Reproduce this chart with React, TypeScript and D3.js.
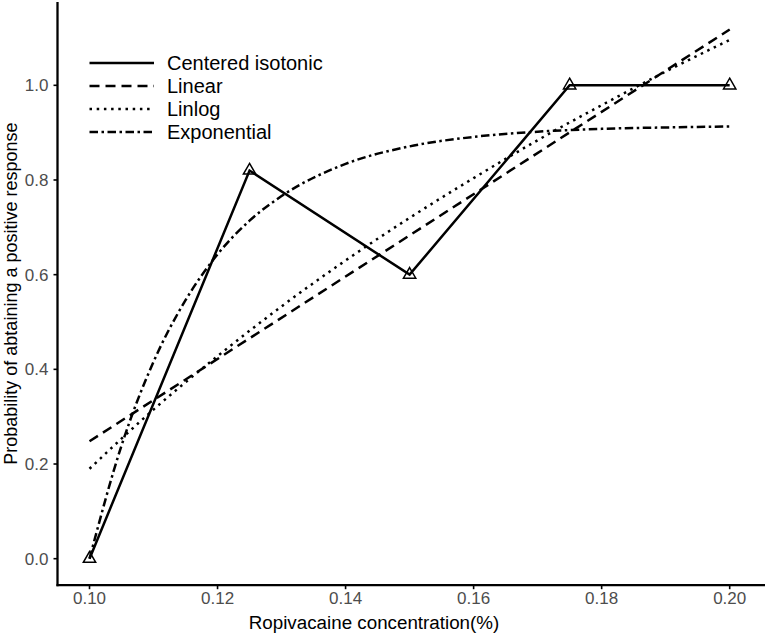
import * as d3 from 'd3';

// values
const isoX = [0.1, 0.125, 0.15, 0.175, 0.2];
const isoY = [0.0, 0.82, 0.6, 1.0, 1.0];

const linearX = [0.1, 0.15, 0.2];
const linearY = [0.248, 0.683, 1.118];

const linlogX = [0.1, 0.11, 0.12, 0.13, 0.14, 0.15, 0.16, 0.17, 0.18, 0.19, 0.2];
const linlogY = [0.19, 0.315, 0.428, 0.533, 0.63, 0.72, 0.804, 0.884, 0.958, 1.029, 1.096];

const expX = [0.1, 0.105, 0.11, 0.115, 0.12, 0.125, 0.13, 0.14, 0.15, 0.16, 0.17, 0.18, 0.19, 0.2];
const expY = [0.0, 0.239, 0.416, 0.546, 0.643, 0.714, 0.766, 0.834, 0.871, 0.891, 0.902, 0.908, 0.911, 0.913];

const xTicks = [0.1, 0.12, 0.14, 0.16, 0.18, 0.2];
const yTicks = [0.0, 0.2, 0.4, 0.6, 0.8, 1.0];

const legendLabels = ['Centered isotonic', 'Linear', 'Linlog', 'Exponential'];
const dashes = ['none', '10,6', '2.5,4.7', '8.5,3.5,2.5,3.5'];

const width = 765;
const height = 635;
const font = "'Liberation Sans', Arial, sans-serif";

type Pt = [number, number];
const zip = (xs: number[], ys: number[]): Pt[] => xs.map((v, i) => [v, ys[i]]);

export default function App() {
  const x = d3.scaleLinear().domain([0.095, 0.205]).range([57.5, 761.7]);
  const y = d3.scaleLinear().domain([-0.056, 1.176]).range([585.2, 2]);

  const straight = d3.line<Pt>().x((d) => x(d[0])).y((d) => y(d[1]));
  const smooth = d3
    .line<Pt>()
    .x((d) => x(d[0]))
    .y((d) => y(d[1]))
    .curve(d3.curveMonotoneX);

  const series = [
    { d: straight(zip(isoX, isoY)), dash: dashes[0] },
    { d: straight(zip(linearX, linearY)), dash: dashes[1] },
    { d: smooth(zip(linlogX, linlogY)), dash: dashes[2] },
    { d: smooth(zip(expX, expY)), dash: dashes[3] },
  ];

  const tri = d3.symbol(d3.symbolTriangle, 66)();
  const left = x.range()[0];
  const bottom = y.range()[0];

  return (
    <svg
      width={width}
      height={height}
      style={{ position: 'absolute', left: 0, top: 0, background: '#fff' }}
      fontFamily={font}
    >
      {series.map((s, i) => (
        <path
          key={i}
          d={s.d ?? ''}
          fill="none"
          stroke="#000"
          strokeWidth={2.5}
          strokeDasharray={s.dash}
        />
      ))}

      {isoX.map((v, i) => (
        <path
          key={i}
          d={tri ?? ''}
          transform={`translate(${x(v)},${y(isoY[i])})`}
          fill="none"
          stroke="#000"
          strokeWidth={1.5}
        />
      ))}

      {/* axes */}
      <line x1={left} x2={left} y1={y.range()[1]} y2={bottom + 1} stroke="#000" strokeWidth={2.3} />
      <line x1={left - 1} x2={width} y1={bottom} y2={bottom} stroke="#000" strokeWidth={2.3} />

      {yTicks.map((t) => (
        <g key={t} transform={`translate(0,${y(t)})`}>
          <line x1={left - 4} x2={left} stroke="#000" strokeWidth={1.6} />
          <text x={left - 9} dy="0.35em" textAnchor="end" fontSize={17} fill="#4d4d4d">
            {d3.format('.1f')(t)}
          </text>
        </g>
      ))}

      {xTicks.map((t) => (
        <g key={t} transform={`translate(${x(t)},0)`}>
          <line y1={bottom} y2={bottom + 4} stroke="#000" strokeWidth={1.6} />
          <text y={604} textAnchor="middle" fontSize={17} fill="#4d4d4d">
            {d3.format('.2f')(t)}
          </text>
        </g>
      ))}

      <text x={374} y={628.5} textAnchor="middle" fontSize={18.8} fill="#000">
        Ropivacaine concentration(%)
      </text>
      <text
        transform={`translate(17,${(y.range()[1] + bottom) / 2}) rotate(-90)`}
        textAnchor="middle"
        fontSize={18}
        fill="#000"
      >
        Probability of abtaining a positive response
      </text>

      {/* legend */}
      {legendLabels.map((label, i) => (
        <g key={label} transform={`translate(0,${63 + i * 23})`}>
          <line x1={89.5} x2={154} stroke="#000" strokeWidth={2.4} strokeDasharray={dashes[i]} />
          <text x={167} dy="0.35em" fontSize={20} fill="#000">
            {label}
          </text>
        </g>
      ))}
    </svg>
  );
}
